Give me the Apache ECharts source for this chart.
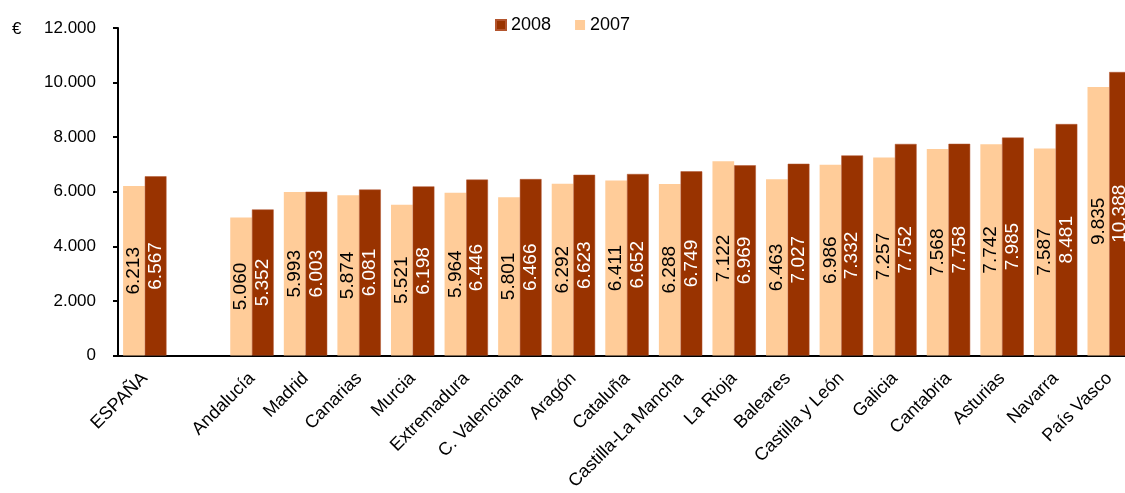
<!DOCTYPE html>
<html>
<head>
<meta charset="utf-8">
<script src="https://cdn.jsdelivr.net/npm/echarts@6/dist/echarts.min.js"></script>
<style>
	html, body { margin: 0; padding: 0; background: #fff; overflow: hidden; }
	#wrap { width: 1125px; height: 493px; overflow: hidden; position: relative; }
	#chart { width: 1136px; height: 493px; position: absolute; left: 0; top: 0; }
</style>
</head>
<body>
<div id="wrap"><div id="chart"></div></div>
<script>
var regiones = ['ESPAÑA', '', 'Andalucía', 'Madrid', 'Canarias', 'Murcia', 'Extremadura', 'C. Valenciana', 'Aragón', 'Cataluña', 'Castilla-La Mancha', 'La Rioja', 'Baleares', 'Castilla y León', 'Galicia', 'Cantabria', 'Asturias', 'Navarra', 'País Vasco'];
var datos2007 = [6213, '-', 5060, 5993, 5874, 5521, 5964, 5801, 6292, 6411, 6288, 7122, 6463, 6986, 7257, 7568, 7742, 7587, 9835];
var datos2008 = [6567, '-', 5352, 6003, 6081, 6198, 6446, 6466, 6623, 6652, 6749, 6969, 7027, 7332, 7752, 7758, 7985, 8481, 10388];
var ejeY = [0, 2000, 4000, 6000, 8000, 10000, 12000];

(function(){
	var FONT = 'Liberation Sans, Arial, sans-serif';
	function miles(v) {
		return String(v).replace(/\B(?=(\d{3})+(?!\d))/g, '.');
	}
	var chart = echarts.init(document.getElementById('chart'));
	var etiqueta = function(color) {
		return {
			show: true,
			position: 'inside',
			rotate: 90,
			color: color,
			fontFamily: FONT,
			fontSize: 19,
			formatter: function(p){ return miles(p.value); }
		};
	};
	var option = {
		animation: false,
		grid: { left: 118, top: 28, right: 0, height: 330 },
		legend: {
			data: ['2008', '2007'],
			left: 490, top: 11,
			itemWidth: 10, itemHeight: 10, itemGap: 24,
			icon: 'rect',
			textStyle: { fontFamily: FONT, fontSize: 18, color: '#000' }
		},
		graphic: [{
			type: 'text', left: 12, top: 21,
			style: { text: '€', fontFamily: FONT, fontSize: 17, fill: '#000' }
		}],
		xAxis: {
			type: 'category',
			data: regiones,
			axisLine: { lineStyle: { color: '#000', width: 2 } },
			axisTick: { show: false },
			axisLabel: { rotate: 45, margin: 20, interval: 0, color: '#000', fontFamily: FONT, fontSize: 18 }
		},
		yAxis: {
			type: 'value',
			min: ejeY[0], max: ejeY[ejeY.length - 1], interval: 2000,
			splitLine: { show: false },
			axisLine: { show: true, lineStyle: { color: '#000', width: 2 } },
			axisTick: { show: true, length: 5, lineStyle: { color: '#000', width: 2 } },
			axisLabel: { margin: 22, color: '#000', fontFamily: FONT, fontSize: 17, formatter: miles }
		},
		series: [
			{
				name: '2007', type: 'bar', data: datos2007,
				barGap: '0%', barCategoryGap: '19%',
				itemStyle: { color: '#FFCC99' },
				label: etiqueta('#000')
			},
			{
				name: '2008', type: 'bar', data: datos2008,
				itemStyle: { color: '#993300', borderColor: '#B3552E', borderWidth: 0.5 },
				label: etiqueta('#fff')
			}
		]
	};
	chart.setOption(option);
})();
</script>
</body>
</html>
